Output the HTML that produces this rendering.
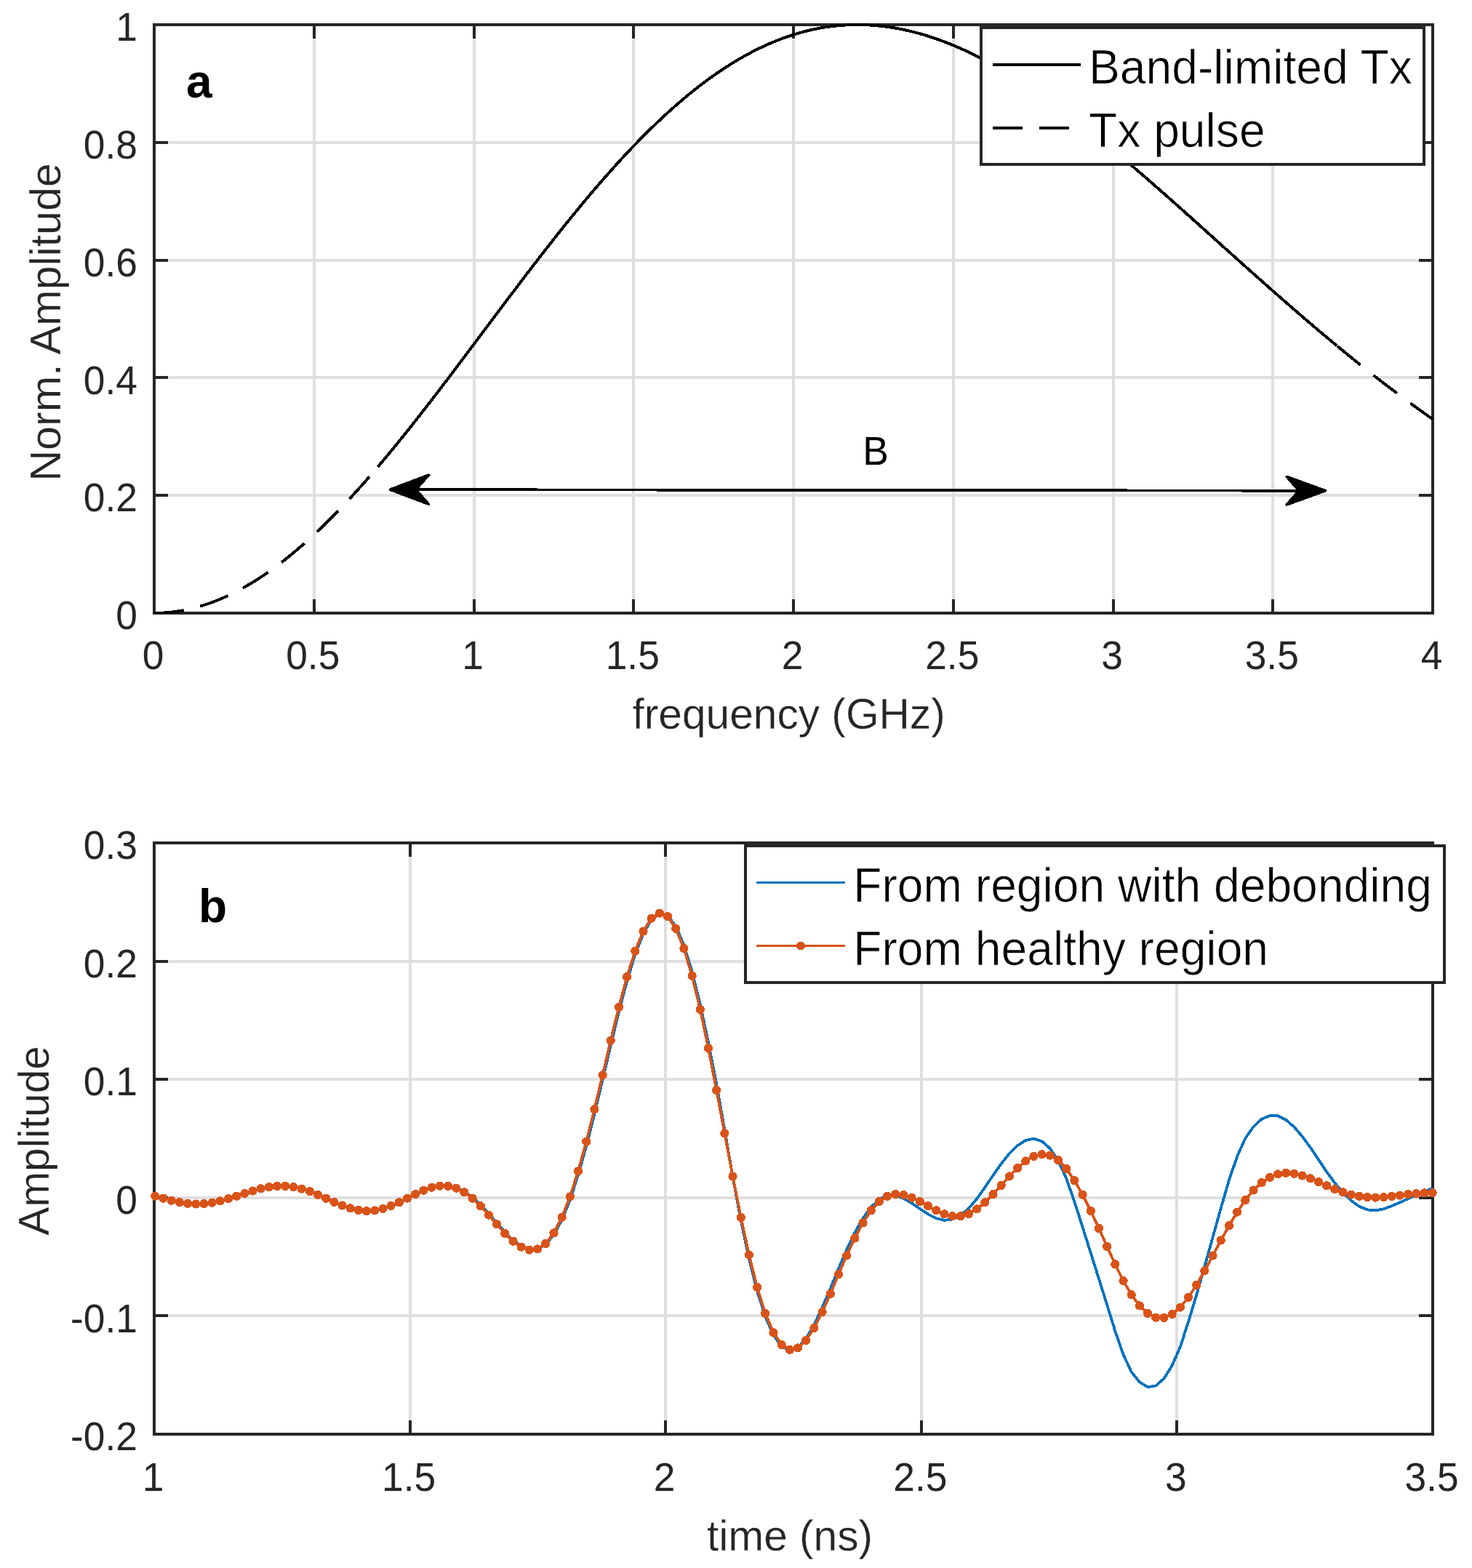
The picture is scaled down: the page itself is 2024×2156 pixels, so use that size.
<!DOCTYPE html>
<html lang="en"><head><meta charset="utf-8"><title>Figure</title>
<style>html,body{margin:0;padding:0;background:#fff}svg{display:block}</style></head>
<body>
<svg width="2024" height="2156" viewBox="0 0 2024 2156" shape-rendering="crispEdges" font-family="'Liberation Sans', Arial, Helvetica, sans-serif">
<rect width="2024" height="2156" fill="#fff"/>
<defs><clipPath id="ca"><rect x="211" y="32" width="1760" height="812"/></clipPath><clipPath id="cb"><rect x="211" y="1158" width="1760" height="815"/></clipPath></defs>
<line x1="431.75" y1="34.0" x2="431.75" y2="843.0" stroke="#dfdfdf" stroke-width="4.0"/>
<line x1="651.50" y1="34.0" x2="651.50" y2="843.0" stroke="#dfdfdf" stroke-width="4.0"/>
<line x1="871.25" y1="34.0" x2="871.25" y2="843.0" stroke="#dfdfdf" stroke-width="4.0"/>
<line x1="1091.00" y1="34.0" x2="1091.00" y2="843.0" stroke="#dfdfdf" stroke-width="4.0"/>
<line x1="1310.75" y1="34.0" x2="1310.75" y2="843.0" stroke="#dfdfdf" stroke-width="4.0"/>
<line x1="1530.50" y1="34.0" x2="1530.50" y2="843.0" stroke="#dfdfdf" stroke-width="4.0"/>
<line x1="1750.25" y1="34.0" x2="1750.25" y2="843.0" stroke="#dfdfdf" stroke-width="4.0"/>
<line x1="212.0" y1="681.20" x2="1970.0" y2="681.20" stroke="#dfdfdf" stroke-width="4.0"/>
<line x1="212.0" y1="519.40" x2="1970.0" y2="519.40" stroke="#dfdfdf" stroke-width="4.0"/>
<line x1="212.0" y1="357.60" x2="1970.0" y2="357.60" stroke="#dfdfdf" stroke-width="4.0"/>
<line x1="212.0" y1="195.80" x2="1970.0" y2="195.80" stroke="#dfdfdf" stroke-width="4.0"/>
<line x1="431.75" y1="843.0" x2="431.75" y2="824.0" stroke="#262626" stroke-width="4.0"/>
<line x1="431.75" y1="34.0" x2="431.75" y2="53.0" stroke="#262626" stroke-width="4.0"/>
<line x1="651.50" y1="843.0" x2="651.50" y2="824.0" stroke="#262626" stroke-width="4.0"/>
<line x1="651.50" y1="34.0" x2="651.50" y2="53.0" stroke="#262626" stroke-width="4.0"/>
<line x1="871.25" y1="843.0" x2="871.25" y2="824.0" stroke="#262626" stroke-width="4.0"/>
<line x1="871.25" y1="34.0" x2="871.25" y2="53.0" stroke="#262626" stroke-width="4.0"/>
<line x1="1091.00" y1="843.0" x2="1091.00" y2="824.0" stroke="#262626" stroke-width="4.0"/>
<line x1="1091.00" y1="34.0" x2="1091.00" y2="53.0" stroke="#262626" stroke-width="4.0"/>
<line x1="1310.75" y1="843.0" x2="1310.75" y2="824.0" stroke="#262626" stroke-width="4.0"/>
<line x1="1310.75" y1="34.0" x2="1310.75" y2="53.0" stroke="#262626" stroke-width="4.0"/>
<line x1="1530.50" y1="843.0" x2="1530.50" y2="824.0" stroke="#262626" stroke-width="4.0"/>
<line x1="1530.50" y1="34.0" x2="1530.50" y2="53.0" stroke="#262626" stroke-width="4.0"/>
<line x1="1750.25" y1="843.0" x2="1750.25" y2="824.0" stroke="#262626" stroke-width="4.0"/>
<line x1="1750.25" y1="34.0" x2="1750.25" y2="53.0" stroke="#262626" stroke-width="4.0"/>
<line x1="212.0" y1="681.20" x2="231.0" y2="681.20" stroke="#262626" stroke-width="4.0"/>
<line x1="1970.0" y1="681.20" x2="1951.0" y2="681.20" stroke="#262626" stroke-width="4.0"/>
<line x1="212.0" y1="519.40" x2="231.0" y2="519.40" stroke="#262626" stroke-width="4.0"/>
<line x1="1970.0" y1="519.40" x2="1951.0" y2="519.40" stroke="#262626" stroke-width="4.0"/>
<line x1="212.0" y1="357.60" x2="231.0" y2="357.60" stroke="#262626" stroke-width="4.0"/>
<line x1="1970.0" y1="357.60" x2="1951.0" y2="357.60" stroke="#262626" stroke-width="4.0"/>
<line x1="212.0" y1="195.80" x2="231.0" y2="195.80" stroke="#262626" stroke-width="4.0"/>
<line x1="1970.0" y1="195.80" x2="1951.0" y2="195.80" stroke="#262626" stroke-width="4.0"/>
<rect x="212.0" y="34.0" width="1758.0" height="809.0" fill="none" stroke="#262626" stroke-width="4.0"/>
<g clip-path="url(#ca)">
<path d="M212.00,843.00 L214.20,842.99 L216.40,842.95 L218.59,842.90 L220.79,842.82 L222.99,842.72 L225.19,842.59 L227.38,842.44 L229.58,842.27 L231.78,842.08 L233.97,841.86 L236.17,841.63 L238.37,841.37 L240.57,841.08 L242.77,840.78 L244.96,840.45 L247.16,840.10 L249.36,839.72 L251.56,839.33 L253.75,838.91 L255.95,838.47 L258.15,838.00 L260.35,837.52 L262.54,837.01 L264.74,836.48 L266.94,835.92 L269.13,835.35 L271.33,834.75 L273.53,834.13 L275.73,833.49 L277.93,832.82 L280.12,832.14 L282.32,831.43 L284.52,830.70 L286.72,829.95 L288.91,829.17 L291.11,828.38 L293.31,827.56 L295.50,826.72 L297.70,825.86 L299.90,824.98 L302.10,824.07 L304.30,823.14 L306.49,822.20 L308.69,821.23 L310.89,820.24 L313.09,819.23 L315.28,818.19 L317.48,817.14 L319.68,816.06 L321.88,814.97 L324.07,813.85 L326.27,812.71 L328.47,811.55 L330.67,810.37 L332.86,809.17 L335.06,807.95 L337.26,806.71 L339.45,805.45 L341.65,804.16 L343.85,802.86 L346.05,801.54 L348.25,800.19 L350.44,798.83 L352.64,797.45 L354.84,796.04 L357.03,794.62 L359.23,793.18 L361.43,791.72 L363.63,790.23 L365.83,788.73 L368.02,787.21 L370.22,785.67 L372.42,784.11 L374.62,782.53 L376.81,780.94 L379.01,779.32 L381.21,777.68 L383.40,776.03 L385.60,774.36 L387.80,772.67 L390.00,770.96 L392.20,769.23 L394.39,767.48 L396.59,765.72 L398.79,763.94 L400.99,762.14 L403.18,760.32 L405.38,758.49 L407.58,756.63 L409.77,754.76 L411.97,752.88 L414.17,750.97 L416.37,749.05 L418.57,747.11 L420.76,745.15 L422.96,743.18 L425.16,741.19 L427.36,739.19 L429.55,737.17 L431.75,735.13 L433.95,733.07 L436.14,731.00 L438.34,728.92 L440.54,726.82 L442.74,724.70 L444.94,722.57 L447.13,720.42 L449.33,718.26 L451.53,716.08 L453.73,713.88 L455.92,711.68 L458.12,709.45 L460.32,707.22 L462.51,704.96 L464.71,702.70 L466.91,700.42 L469.11,698.12 L471.31,695.81 L473.50,693.49 L475.70,691.16 L477.90,688.81 L480.09,686.44 L482.29,684.07 L484.49,681.68 L486.69,679.28 L488.88,676.86 L491.08,674.44 L493.28,672.00 L495.48,669.54 L497.68,667.08 L499.87,664.60 L502.07,662.12 L504.27,659.62 L506.47,657.11 L508.66,654.58 L510.86,652.05 L513.06,649.50 L515.26,646.95 L517.45,644.38 L519.65,641.80 L521.85,639.21 L524.04,636.61 L526.24,634.00 L528.44,631.38 L530.64,628.76 L532.84,626.12 L535.03,623.47 L537.23,620.81 L539.43,618.14 L541.62,615.47 L543.82,612.78 L546.02,610.09 L548.22,607.38 L550.41,604.67 L552.61,601.95 L554.81,599.22 L557.01,596.49 L559.21,593.74 L561.40,590.99 L563.60,588.23 L565.80,585.46 L568.00,582.69 L570.19,579.91 L572.39,577.12 L574.59,574.32 L576.79,571.52 L578.98,568.71 L581.18,565.90 L583.38,563.08 L585.58,560.25 L587.77,557.42 L589.97,554.58 L592.17,551.73 L594.37,548.88 L596.56,546.03 L598.76,543.17 L600.96,540.31 L603.15,537.44 L605.35,534.56 L607.55,531.68 L609.75,528.80 L611.94,525.92 L614.14,523.03 L616.34,520.13 L618.54,517.23 L620.74,514.33 L622.93,511.43 L625.13,508.52 L627.33,505.61 L629.53,502.70 L631.72,499.78 L633.92,496.87 L636.12,493.95 L638.32,491.02 L640.51,488.10 L642.71,485.17 L644.91,482.25 L647.11,479.32 L649.30,476.39 L651.50,473.45 L653.70,470.52 L655.89,467.59 L658.09,464.66 L660.29,461.72 L662.49,458.79 L664.68,455.85 L666.88,452.92 L669.08,449.98 L671.28,447.05 L673.48,444.11 L675.67,441.18 L677.87,438.25 L680.07,435.32 L682.27,432.39 L684.46,429.46 L686.66,426.53 L688.86,423.60 L691.06,420.68 L693.25,417.76 L695.45,414.84 L697.65,411.92 L699.85,409.00 L702.04,406.09 L704.24,403.18 L706.44,400.27 L708.63,397.37 L710.83,394.46 L713.03,391.57 L715.23,388.67 L717.43,385.78 L719.62,382.89 L721.82,380.01 L724.02,377.13 L726.21,374.25 L728.41,371.38 L730.61,368.52 L732.81,365.65 L735.00,362.80 L737.20,359.95 L739.40,357.10 L741.60,354.26 L743.79,351.42 L745.99,348.59 L748.19,345.76 L750.39,342.94 L752.59,340.13 L754.78,337.32 L756.98,334.52 L759.18,331.73 L761.38,328.94 L763.57,326.16 L765.77,323.38 L767.97,320.62 L770.16,317.86 L772.36,315.10 L774.56,312.36 L776.76,309.62 L778.96,306.89 L781.15,304.16 L783.35,301.45 L785.55,298.74 L787.75,296.04 L789.94,293.35 L792.14,290.67 L794.34,288.00 L796.54,285.33 L798.73,282.67 L800.93,280.03 L803.13,277.39 L805.33,274.76 L807.52,272.14 L809.72,269.53 L811.92,266.93 L814.12,264.34 L816.31,261.76 L818.51,259.19 L820.71,256.63 L822.91,254.08 L825.10,251.54 L827.30,249.01 L829.50,246.49 L831.69,243.98 L833.89,241.48 L836.09,238.99 L838.29,236.52 L840.49,234.05 L842.68,231.60 L844.88,229.16 L847.08,226.73 L849.27,224.31 L851.47,221.90 L853.67,219.50 L855.87,217.12 L858.06,214.75 L860.26,212.39 L862.46,210.04 L864.66,207.71 L866.86,205.38 L869.05,203.07 L871.25,200.78 L873.45,198.49 L875.64,196.22 L877.84,193.96 L880.04,191.71 L882.24,189.48 L884.44,187.26 L886.63,185.05 L888.83,182.86 L891.03,180.68 L893.23,178.52 L895.42,176.36 L897.62,174.23 L899.82,172.10 L902.01,169.99 L904.21,167.89 L906.41,165.81 L908.61,163.74 L910.81,161.69 L913.00,159.65 L915.20,157.63 L917.40,155.61 L919.60,153.62 L921.79,151.64 L923.99,149.67 L926.19,147.72 L928.39,145.78 L930.58,143.86 L932.78,141.95 L934.98,140.06 L937.18,138.19 L939.37,136.32 L941.57,134.48 L943.77,132.65 L945.96,130.83 L948.16,129.03 L950.36,127.25 L952.56,125.48 L954.75,123.73 L956.95,121.99 L959.15,120.27 L961.35,118.57 L963.54,116.88 L965.74,115.21 L967.94,113.55 L970.14,111.91 L972.34,110.28 L974.53,108.68 L976.73,107.08 L978.93,105.51 L981.12,103.95 L983.32,102.41 L985.52,100.88 L987.72,99.37 L989.91,97.88 L992.11,96.40 L994.31,94.94 L996.51,93.50 L998.71,92.07 L1000.90,90.66 L1003.10,89.27 L1005.30,87.89 L1007.50,86.53 L1009.69,85.19 L1011.89,83.87 L1014.09,82.56 L1016.29,81.27 L1018.48,79.99 L1020.68,78.74 L1022.88,77.50 L1025.08,76.28 L1027.27,75.07 L1029.47,73.88 L1031.67,72.71 L1033.87,71.56 L1036.06,70.42 L1038.26,69.30 L1040.46,68.20 L1042.66,67.12 L1044.85,66.05 L1047.05,65.00 L1049.25,63.97 L1051.45,62.96 L1053.64,61.96 L1055.84,60.98 L1058.04,60.02 L1060.24,59.07 L1062.43,58.15 L1064.63,57.24 L1066.83,56.34 L1069.03,55.47 L1071.22,54.61 L1073.42,53.77 L1075.62,52.95 L1077.82,52.15 L1080.01,51.36 L1082.21,50.59 L1084.41,49.84 L1086.61,49.11 L1088.80,48.39 L1091.00,47.69 L1093.20,47.01 L1095.39,46.34 L1097.59,45.70 L1099.79,45.07 L1101.99,44.46 L1104.18,43.86 L1106.38,43.29 L1108.58,42.73 L1110.78,42.19 L1112.97,41.67 L1115.17,41.16 L1117.37,40.67 L1119.57,40.20 L1121.76,39.75 L1123.96,39.31 L1126.16,38.89 L1128.36,38.49 L1130.55,38.10 L1132.75,37.74 L1134.95,37.39 L1137.15,37.06 L1139.34,36.74 L1141.54,36.44 L1143.74,36.16 L1145.94,35.90 L1148.13,35.65 L1150.33,35.43 L1152.53,35.21 L1154.73,35.02 L1156.92,34.84 L1159.12,34.68 L1161.32,34.54 L1163.52,34.41 L1165.71,34.30 L1167.91,34.21 L1170.11,34.13 L1172.31,34.08 L1174.51,34.03 L1176.70,34.01 L1178.90,34.00 L1181.10,34.01 L1183.30,34.03 L1185.49,34.08 L1187.69,34.13 L1189.89,34.21 L1192.09,34.30 L1194.28,34.41 L1196.48,34.53 L1198.68,34.67 L1200.88,34.83 L1203.07,35.00 L1205.27,35.19 L1207.47,35.40 L1209.66,35.62 L1211.86,35.86 L1214.06,36.11 L1216.26,36.38 L1218.45,36.67 L1220.65,36.97 L1222.85,37.29 L1225.05,37.62 L1227.24,37.97 L1229.44,38.34 L1231.64,38.72 L1233.84,39.11 L1236.04,39.52 L1238.23,39.95 L1240.43,40.39 L1242.63,40.85 L1244.83,41.33 L1247.02,41.81 L1249.22,42.32 L1251.42,42.84 L1253.62,43.37 L1255.81,43.92 L1258.01,44.48 L1260.21,45.06 L1262.40,45.66 L1264.60,46.27 L1266.80,46.89 L1269.00,47.53 L1271.20,48.18 L1273.39,48.85 L1275.59,49.53 L1277.79,50.22 L1279.99,50.93 L1282.18,51.66 L1284.38,52.40 L1286.58,53.15 L1288.78,53.91 L1290.97,54.70 L1293.17,55.49 L1295.37,56.30 L1297.57,57.12 L1299.76,57.96 L1301.96,58.81 L1304.16,59.67 L1306.36,60.54 L1308.55,61.43 L1310.75,62.34 L1312.95,63.25 L1315.15,64.18 L1317.34,65.13 L1319.54,66.08 L1321.74,67.05 L1323.94,68.03 L1326.13,69.03 L1328.33,70.03 L1330.53,71.05 L1332.73,72.08 L1334.92,73.13 L1337.12,74.19 L1339.32,75.26 L1341.51,76.34 L1343.71,77.43 L1345.91,78.54 L1348.11,79.65 L1350.30,80.78 L1352.50,81.93 L1354.70,83.08 L1356.90,84.25 L1359.10,85.42 L1361.29,86.61 L1363.49,87.81 L1365.69,89.02 L1367.88,90.24 L1370.08,91.48 L1372.28,92.72 L1374.48,93.98 L1376.67,95.25 L1378.87,96.52 L1381.07,97.81 L1383.27,99.11 L1385.46,100.42 L1387.66,101.74 L1389.86,103.07 L1392.06,104.41 L1394.25,105.77 L1396.45,107.13 L1398.65,108.50 L1400.85,109.88 L1403.05,111.27 L1405.24,112.68 L1407.44,114.09 L1409.64,115.51 L1411.84,116.94 L1414.03,118.38 L1416.23,119.83 L1418.43,121.29 L1420.62,122.76 L1422.82,124.24 L1425.02,125.72 L1427.22,127.22 L1429.41,128.72 L1431.61,130.24 L1433.81,131.76 L1436.01,133.29 L1438.20,134.83 L1440.40,136.38 L1442.60,137.94 L1444.80,139.50 L1447.00,141.07 L1449.19,142.66 L1451.39,144.25 L1453.59,145.84 L1455.79,147.45 L1457.98,149.06 L1460.18,150.68 L1462.38,152.31 L1464.58,153.95 L1466.77,155.59 L1468.97,157.24 L1471.17,158.90 L1473.37,160.56 L1475.56,162.24 L1477.76,163.92 L1479.96,165.60 L1482.15,167.29 L1484.35,168.99 L1486.55,170.70 L1488.75,172.41 L1490.95,174.13 L1493.14,175.86 L1495.34,177.59 L1497.54,179.33 L1499.74,181.08 L1501.93,182.83 L1504.13,184.58 L1506.33,186.35 L1508.53,188.12 L1510.72,189.89 L1512.92,191.67 L1515.12,193.46 L1517.32,195.25 L1519.51,197.04 L1521.71,198.85 L1523.91,200.65 L1526.11,202.47 L1528.30,204.28 L1530.50,206.11 L1532.70,207.93 L1534.90,209.76 L1537.09,211.60 L1539.29,213.44 L1541.49,215.29 L1543.69,217.14 L1545.88,218.99 L1548.08,220.85 L1550.28,222.72 L1552.48,224.58 L1554.67,226.45 L1556.87,228.33 L1559.07,230.21 L1561.27,232.09 L1563.46,233.98 L1565.66,235.87 L1567.86,237.76 L1570.05,239.66 L1572.25,241.56 L1574.45,243.47 L1576.65,245.37 L1578.85,247.29 L1581.04,249.20 L1583.24,251.12 L1585.44,253.04 L1587.63,254.96 L1589.83,256.88 L1592.03,258.81 L1594.23,260.74 L1596.42,262.68 L1598.62,264.61 L1600.82,266.55 L1603.02,268.49 L1605.21,270.43 L1607.41,272.38 L1609.61,274.33 L1611.81,276.27 L1614.00,278.23 L1616.20,280.18 L1618.40,282.13 L1620.60,284.09 L1622.80,286.05 L1624.99,288.01 L1627.19,289.97 L1629.39,291.93 L1631.59,293.89 L1633.78,295.86 L1635.98,297.83 L1638.18,299.79 L1640.38,301.76 L1642.57,303.73 L1644.77,305.70 L1646.97,307.67 L1649.16,309.64 L1651.36,311.62 L1653.56,313.59 L1655.76,315.57 L1657.95,317.54 L1660.15,319.51 L1662.35,321.49 L1664.55,323.47 L1666.75,325.44 L1668.94,327.42 L1671.14,329.39 L1673.34,331.37 L1675.54,333.35 L1677.73,335.32 L1679.93,337.30 L1682.13,339.27 L1684.33,341.25 L1686.52,343.22 L1688.72,345.20 L1690.92,347.17 L1693.12,349.14 L1695.31,351.12 L1697.51,353.09 L1699.71,355.06 L1701.90,357.03 L1704.10,359.00 L1706.30,360.97 L1708.50,362.94 L1710.70,364.91 L1712.89,366.87 L1715.09,368.84 L1717.29,370.80 L1719.49,372.76 L1721.68,374.72 L1723.88,376.68 L1726.08,378.64 L1728.28,380.60 L1730.47,382.55 L1732.67,384.50 L1734.87,386.46 L1737.07,388.41 L1739.26,390.35 L1741.46,392.30 L1743.66,394.25 L1745.86,396.19 L1748.05,398.13 L1750.25,400.07 L1752.45,402.00 L1754.65,403.94 L1756.84,405.87 L1759.04,407.80 L1761.24,409.73 L1763.44,411.65 L1765.63,413.58 L1767.83,415.50 L1770.03,417.41 L1772.23,419.33 L1774.42,421.24 L1776.62,423.15 L1778.82,425.06 L1781.02,426.96 L1783.21,428.87 L1785.41,430.77 L1787.61,432.66 L1789.80,434.55 L1792.00,436.45 L1794.20,438.33 L1796.40,440.22 L1798.60,442.10 L1800.79,443.98 L1802.99,445.85 L1805.19,447.72 L1807.38,449.59 L1809.58,451.46 L1811.78,453.32 L1813.98,455.18 L1816.17,457.03 L1818.37,458.88 L1820.57,460.73 L1822.77,462.58 L1824.96,464.42 L1827.16,466.25 L1829.36,468.09 L1831.56,469.92 L1833.75,471.74 L1835.95,473.57 L1838.15,475.38 L1840.35,477.20 L1842.55,479.01 L1844.74,480.82 L1846.94,482.62 L1849.14,484.42 L1851.34,486.21 L1853.53,488.01 L1855.73,489.79 L1857.93,491.58 L1860.12,493.35 L1862.32,495.13 L1864.52,496.90 L1866.72,498.67 L1868.91,500.43 L1871.11,502.18 L1873.31,503.94 L1875.51,505.69 L1877.70,507.43 L1879.90,509.17 L1882.10,510.91 L1884.30,512.64 L1886.50,514.36 L1888.69,516.09 L1890.89,517.80 L1893.09,519.52 L1895.29,521.23 L1897.48,522.93 L1899.68,524.63 L1901.88,526.32 L1904.08,528.01 L1906.27,529.70 L1908.47,531.38 L1910.67,533.05 L1912.87,534.72 L1915.06,536.39 L1917.26,538.05 L1919.46,539.71 L1921.65,541.36 L1923.85,543.01 L1926.05,544.65 L1928.25,546.28 L1930.45,547.92 L1932.64,549.54 L1934.84,551.16 L1937.04,552.78 L1939.24,554.39 L1941.43,556.00 L1943.63,557.60 L1945.83,559.20 L1948.03,560.79 L1950.22,562.37 L1952.42,563.96 L1954.62,565.53 L1956.82,567.10 L1959.01,568.67 L1961.21,570.23 L1963.41,571.78 L1965.61,573.33 L1967.80,574.88 L1970.00,576.42" fill="none" stroke="#000" stroke-width="4.0" stroke-linejoin="round" shape-rendering="crispEdges" stroke-dasharray="41 23"/>
<path d="M519.65,641.80 L521.85,639.21 L524.04,636.61 L526.24,634.00 L528.44,631.38 L530.64,628.76 L532.84,626.12 L535.03,623.47 L537.23,620.81 L539.43,618.14 L541.62,615.47 L543.82,612.78 L546.02,610.09 L548.22,607.38 L550.41,604.67 L552.61,601.95 L554.81,599.22 L557.01,596.49 L559.21,593.74 L561.40,590.99 L563.60,588.23 L565.80,585.46 L568.00,582.69 L570.19,579.91 L572.39,577.12 L574.59,574.32 L576.79,571.52 L578.98,568.71 L581.18,565.90 L583.38,563.08 L585.58,560.25 L587.77,557.42 L589.97,554.58 L592.17,551.73 L594.37,548.88 L596.56,546.03 L598.76,543.17 L600.96,540.31 L603.15,537.44 L605.35,534.56 L607.55,531.68 L609.75,528.80 L611.94,525.92 L614.14,523.03 L616.34,520.13 L618.54,517.23 L620.74,514.33 L622.93,511.43 L625.13,508.52 L627.33,505.61 L629.53,502.70 L631.72,499.78 L633.92,496.87 L636.12,493.95 L638.32,491.02 L640.51,488.10 L642.71,485.17 L644.91,482.25 L647.11,479.32 L649.30,476.39 L651.50,473.45 L653.70,470.52 L655.89,467.59 L658.09,464.66 L660.29,461.72 L662.49,458.79 L664.68,455.85 L666.88,452.92 L669.08,449.98 L671.28,447.05 L673.48,444.11 L675.67,441.18 L677.87,438.25 L680.07,435.32 L682.27,432.39 L684.46,429.46 L686.66,426.53 L688.86,423.60 L691.06,420.68 L693.25,417.76 L695.45,414.84 L697.65,411.92 L699.85,409.00 L702.04,406.09 L704.24,403.18 L706.44,400.27 L708.63,397.37 L710.83,394.46 L713.03,391.57 L715.23,388.67 L717.43,385.78 L719.62,382.89 L721.82,380.01 L724.02,377.13 L726.21,374.25 L728.41,371.38 L730.61,368.52 L732.81,365.65 L735.00,362.80 L737.20,359.95 L739.40,357.10 L741.60,354.26 L743.79,351.42 L745.99,348.59 L748.19,345.76 L750.39,342.94 L752.59,340.13 L754.78,337.32 L756.98,334.52 L759.18,331.73 L761.38,328.94 L763.57,326.16 L765.77,323.38 L767.97,320.62 L770.16,317.86 L772.36,315.10 L774.56,312.36 L776.76,309.62 L778.96,306.89 L781.15,304.16 L783.35,301.45 L785.55,298.74 L787.75,296.04 L789.94,293.35 L792.14,290.67 L794.34,288.00 L796.54,285.33 L798.73,282.67 L800.93,280.03 L803.13,277.39 L805.33,274.76 L807.52,272.14 L809.72,269.53 L811.92,266.93 L814.12,264.34 L816.31,261.76 L818.51,259.19 L820.71,256.63 L822.91,254.08 L825.10,251.54 L827.30,249.01 L829.50,246.49 L831.69,243.98 L833.89,241.48 L836.09,238.99 L838.29,236.52 L840.49,234.05 L842.68,231.60 L844.88,229.16 L847.08,226.73 L849.27,224.31 L851.47,221.90 L853.67,219.50 L855.87,217.12 L858.06,214.75 L860.26,212.39 L862.46,210.04 L864.66,207.71 L866.86,205.38 L869.05,203.07 L871.25,200.78 L873.45,198.49 L875.64,196.22 L877.84,193.96 L880.04,191.71 L882.24,189.48 L884.44,187.26 L886.63,185.05 L888.83,182.86 L891.03,180.68 L893.23,178.52 L895.42,176.36 L897.62,174.23 L899.82,172.10 L902.01,169.99 L904.21,167.89 L906.41,165.81 L908.61,163.74 L910.81,161.69 L913.00,159.65 L915.20,157.63 L917.40,155.61 L919.60,153.62 L921.79,151.64 L923.99,149.67 L926.19,147.72 L928.39,145.78 L930.58,143.86 L932.78,141.95 L934.98,140.06 L937.18,138.19 L939.37,136.32 L941.57,134.48 L943.77,132.65 L945.96,130.83 L948.16,129.03 L950.36,127.25 L952.56,125.48 L954.75,123.73 L956.95,121.99 L959.15,120.27 L961.35,118.57 L963.54,116.88 L965.74,115.21 L967.94,113.55 L970.14,111.91 L972.34,110.28 L974.53,108.68 L976.73,107.08 L978.93,105.51 L981.12,103.95 L983.32,102.41 L985.52,100.88 L987.72,99.37 L989.91,97.88 L992.11,96.40 L994.31,94.94 L996.51,93.50 L998.71,92.07 L1000.90,90.66 L1003.10,89.27 L1005.30,87.89 L1007.50,86.53 L1009.69,85.19 L1011.89,83.87 L1014.09,82.56 L1016.29,81.27 L1018.48,79.99 L1020.68,78.74 L1022.88,77.50 L1025.08,76.28 L1027.27,75.07 L1029.47,73.88 L1031.67,72.71 L1033.87,71.56 L1036.06,70.42 L1038.26,69.30 L1040.46,68.20 L1042.66,67.12 L1044.85,66.05 L1047.05,65.00 L1049.25,63.97 L1051.45,62.96 L1053.64,61.96 L1055.84,60.98 L1058.04,60.02 L1060.24,59.07 L1062.43,58.15 L1064.63,57.24 L1066.83,56.34 L1069.03,55.47 L1071.22,54.61 L1073.42,53.77 L1075.62,52.95 L1077.82,52.15 L1080.01,51.36 L1082.21,50.59 L1084.41,49.84 L1086.61,49.11 L1088.80,48.39 L1091.00,47.69 L1093.20,47.01 L1095.39,46.34 L1097.59,45.70 L1099.79,45.07 L1101.99,44.46 L1104.18,43.86 L1106.38,43.29 L1108.58,42.73 L1110.78,42.19 L1112.97,41.67 L1115.17,41.16 L1117.37,40.67 L1119.57,40.20 L1121.76,39.75 L1123.96,39.31 L1126.16,38.89 L1128.36,38.49 L1130.55,38.10 L1132.75,37.74 L1134.95,37.39 L1137.15,37.06 L1139.34,36.74 L1141.54,36.44 L1143.74,36.16 L1145.94,35.90 L1148.13,35.65 L1150.33,35.43 L1152.53,35.21 L1154.73,35.02 L1156.92,34.84 L1159.12,34.68 L1161.32,34.54 L1163.52,34.41 L1165.71,34.30 L1167.91,34.21 L1170.11,34.13 L1172.31,34.08 L1174.51,34.03 L1176.70,34.01 L1178.90,34.00 L1181.10,34.01 L1183.30,34.03 L1185.49,34.08 L1187.69,34.13 L1189.89,34.21 L1192.09,34.30 L1194.28,34.41 L1196.48,34.53 L1198.68,34.67 L1200.88,34.83 L1203.07,35.00 L1205.27,35.19 L1207.47,35.40 L1209.66,35.62 L1211.86,35.86 L1214.06,36.11 L1216.26,36.38 L1218.45,36.67 L1220.65,36.97 L1222.85,37.29 L1225.05,37.62 L1227.24,37.97 L1229.44,38.34 L1231.64,38.72 L1233.84,39.11 L1236.04,39.52 L1238.23,39.95 L1240.43,40.39 L1242.63,40.85 L1244.83,41.33 L1247.02,41.81 L1249.22,42.32 L1251.42,42.84 L1253.62,43.37 L1255.81,43.92 L1258.01,44.48 L1260.21,45.06 L1262.40,45.66 L1264.60,46.27 L1266.80,46.89 L1269.00,47.53 L1271.20,48.18 L1273.39,48.85 L1275.59,49.53 L1277.79,50.22 L1279.99,50.93 L1282.18,51.66 L1284.38,52.40 L1286.58,53.15 L1288.78,53.91 L1290.97,54.70 L1293.17,55.49 L1295.37,56.30 L1297.57,57.12 L1299.76,57.96 L1301.96,58.81 L1304.16,59.67 L1306.36,60.54 L1308.55,61.43 L1310.75,62.34 L1312.95,63.25 L1315.15,64.18 L1317.34,65.13 L1319.54,66.08 L1321.74,67.05 L1323.94,68.03 L1326.13,69.03 L1328.33,70.03 L1330.53,71.05 L1332.73,72.08 L1334.92,73.13 L1337.12,74.19 L1339.32,75.26 L1341.51,76.34 L1343.71,77.43 L1345.91,78.54 L1348.11,79.65 L1350.30,80.78 L1352.50,81.93 L1354.70,83.08 L1356.90,84.25 L1359.10,85.42 L1361.29,86.61 L1363.49,87.81 L1365.69,89.02 L1367.88,90.24 L1370.08,91.48 L1372.28,92.72 L1374.48,93.98 L1376.67,95.25 L1378.87,96.52 L1381.07,97.81 L1383.27,99.11 L1385.46,100.42 L1387.66,101.74 L1389.86,103.07 L1392.06,104.41 L1394.25,105.77 L1396.45,107.13 L1398.65,108.50 L1400.85,109.88 L1403.05,111.27 L1405.24,112.68 L1407.44,114.09 L1409.64,115.51 L1411.84,116.94 L1414.03,118.38 L1416.23,119.83 L1418.43,121.29 L1420.62,122.76 L1422.82,124.24 L1425.02,125.72 L1427.22,127.22 L1429.41,128.72 L1431.61,130.24 L1433.81,131.76 L1436.01,133.29 L1438.20,134.83 L1440.40,136.38 L1442.60,137.94 L1444.80,139.50 L1447.00,141.07 L1449.19,142.66 L1451.39,144.25 L1453.59,145.84 L1455.79,147.45 L1457.98,149.06 L1460.18,150.68 L1462.38,152.31 L1464.58,153.95 L1466.77,155.59 L1468.97,157.24 L1471.17,158.90 L1473.37,160.56 L1475.56,162.24 L1477.76,163.92 L1479.96,165.60 L1482.15,167.29 L1484.35,168.99 L1486.55,170.70 L1488.75,172.41 L1490.95,174.13 L1493.14,175.86 L1495.34,177.59 L1497.54,179.33 L1499.74,181.08 L1501.93,182.83 L1504.13,184.58 L1506.33,186.35 L1508.53,188.12 L1510.72,189.89 L1512.92,191.67 L1515.12,193.46 L1517.32,195.25 L1519.51,197.04 L1521.71,198.85 L1523.91,200.65 L1526.11,202.47 L1528.30,204.28 L1530.50,206.11 L1532.70,207.93 L1534.90,209.76 L1537.09,211.60 L1539.29,213.44 L1541.49,215.29 L1543.69,217.14 L1545.88,218.99 L1548.08,220.85 L1550.28,222.72 L1552.48,224.58 L1554.67,226.45 L1556.87,228.33 L1559.07,230.21 L1561.27,232.09 L1563.46,233.98 L1565.66,235.87 L1567.86,237.76 L1570.05,239.66 L1572.25,241.56 L1574.45,243.47 L1576.65,245.37 L1578.85,247.29 L1581.04,249.20 L1583.24,251.12 L1585.44,253.04 L1587.63,254.96 L1589.83,256.88 L1592.03,258.81 L1594.23,260.74 L1596.42,262.68 L1598.62,264.61 L1600.82,266.55 L1603.02,268.49 L1605.21,270.43 L1607.41,272.38 L1609.61,274.33 L1611.81,276.27 L1614.00,278.23 L1616.20,280.18 L1618.40,282.13 L1620.60,284.09 L1622.80,286.05 L1624.99,288.01 L1627.19,289.97 L1629.39,291.93 L1631.59,293.89 L1633.78,295.86 L1635.98,297.83 L1638.18,299.79 L1640.38,301.76 L1642.57,303.73 L1644.77,305.70 L1646.97,307.67 L1649.16,309.64 L1651.36,311.62 L1653.56,313.59 L1655.76,315.57 L1657.95,317.54 L1660.15,319.51 L1662.35,321.49 L1664.55,323.47 L1666.75,325.44 L1668.94,327.42 L1671.14,329.39 L1673.34,331.37 L1675.54,333.35 L1677.73,335.32 L1679.93,337.30 L1682.13,339.27 L1684.33,341.25 L1686.52,343.22 L1688.72,345.20 L1690.92,347.17 L1693.12,349.14 L1695.31,351.12 L1697.51,353.09 L1699.71,355.06 L1701.90,357.03 L1704.10,359.00 L1706.30,360.97 L1708.50,362.94 L1710.70,364.91 L1712.89,366.87 L1715.09,368.84 L1717.29,370.80 L1719.49,372.76 L1721.68,374.72 L1723.88,376.68 L1726.08,378.64 L1728.28,380.60 L1730.47,382.55 L1732.67,384.50 L1734.87,386.46 L1737.07,388.41 L1739.26,390.35 L1741.46,392.30 L1743.66,394.25 L1745.86,396.19 L1748.05,398.13 L1750.25,400.07 L1752.45,402.00 L1754.65,403.94 L1756.84,405.87 L1759.04,407.80 L1761.24,409.73 L1763.44,411.65 L1765.63,413.58 L1767.83,415.50 L1770.03,417.41 L1772.23,419.33 L1774.42,421.24 L1776.62,423.15 L1778.82,425.06 L1781.02,426.96 L1783.21,428.87 L1785.41,430.77 L1787.61,432.66 L1789.80,434.55 L1792.00,436.45 L1794.20,438.33 L1796.40,440.22 L1798.60,442.10 L1800.79,443.98 L1802.99,445.85 L1805.19,447.72 L1807.38,449.59 L1809.58,451.46 L1811.78,453.32 L1813.98,455.18 L1816.17,457.03 L1818.37,458.88 L1820.57,460.73 L1822.77,462.58 L1824.96,464.42 L1827.16,466.25 L1829.36,468.09 L1831.56,469.92 L1833.75,471.74 L1835.95,473.57 L1838.15,475.38" fill="none" stroke="#000" stroke-width="4.0" stroke-linejoin="round" shape-rendering="crispEdges" />
</g>
<text transform="translate(210.50,920.00) scale(1,1.035)" font-size="53.33" text-anchor="middle" fill="#262626">0</text>
<text transform="translate(430.25,920.00) scale(1,1.035)" font-size="53.33" text-anchor="middle" fill="#262626">0.5</text>
<text transform="translate(650.00,920.00) scale(1,1.035)" font-size="53.33" text-anchor="middle" fill="#262626">1</text>
<text transform="translate(869.75,920.00) scale(1,1.035)" font-size="53.33" text-anchor="middle" fill="#262626">1.5</text>
<text transform="translate(1089.50,920.00) scale(1,1.035)" font-size="53.33" text-anchor="middle" fill="#262626">2</text>
<text transform="translate(1309.25,920.00) scale(1,1.035)" font-size="53.33" text-anchor="middle" fill="#262626">2.5</text>
<text transform="translate(1529.00,920.00) scale(1,1.035)" font-size="53.33" text-anchor="middle" fill="#262626">3</text>
<text transform="translate(1748.75,920.00) scale(1,1.035)" font-size="53.33" text-anchor="middle" fill="#262626">3.5</text>
<text transform="translate(1968.50,920.00) scale(1,1.035)" font-size="53.33" text-anchor="middle" fill="#262626">4</text>
<text transform="translate(189.00,865.20) scale(1,1.035)" font-size="53.33" text-anchor="end" fill="#262626">0</text>
<text transform="translate(189.00,703.40) scale(1,1.035)" font-size="53.33" text-anchor="end" fill="#262626">0.2</text>
<text transform="translate(189.00,541.60) scale(1,1.035)" font-size="53.33" text-anchor="end" fill="#262626">0.4</text>
<text transform="translate(189.00,379.80) scale(1,1.035)" font-size="53.33" text-anchor="end" fill="#262626">0.6</text>
<text transform="translate(189.00,218.00) scale(1,1.035)" font-size="53.33" text-anchor="end" fill="#262626">0.8</text>
<text transform="translate(189.00,56.20) scale(1,1.035)" font-size="53.33" text-anchor="end" fill="#262626">1</text>
<text transform="translate(1084.60,1002.15)" font-size="58.67" text-anchor="middle" fill="#262626" stroke="#fff" stroke-width="0.3">frequency (GHz)</text>
<text transform="translate(83.00,442.95) rotate(-90)" font-size="59.2" text-anchor="middle" fill="#262626" stroke="#fff" stroke-width="0.3">Norm. Amplitude</text>
<text transform="translate(256.00,134.00) scale(1,1.02)" font-size="64" text-anchor="start" fill="#000" font-weight="bold">a</text>
<line x1="575.0" y1="673.2" x2="1784.5" y2="674.7" stroke="#000" stroke-width="3.8"/>
<path d="M535.4,673.2 L590.5,652.4000000000001 L572.3,673.2 L590.5,694.0 Z" fill="#000" stroke="#000" stroke-width="3" stroke-linejoin="bevel"/>
<path d="M1823.4,674.7 L1768.3,654.7 L1785.5,674.7 L1768.3,694.7 Z" fill="#000" stroke="#000" stroke-width="3" stroke-linejoin="bevel"/>
<text transform="translate(1204.00,639.00) scale(1,1.04)" font-size="53.33" text-anchor="middle" fill="#000">B</text>
<rect x="1349" y="38" width="609" height="188" fill="#fff" stroke="#262626" stroke-width="4.0"/>
<line x1="1365" y1="89" x2="1486" y2="89" stroke="#000" stroke-width="4"/>
<line x1="1365" y1="176" x2="1486" y2="176" stroke="#000" stroke-width="4" stroke-dasharray="41 23"/>
<text transform="translate(1497.00,115.35) scale(1,1.04)" font-size="64.2" text-anchor="start" fill="#000" stroke="#fff" stroke-width="0.7">Band-limited Tx</text>
<text transform="translate(1497.00,202.35) scale(1,1.04)" font-size="64.2" text-anchor="start" fill="#000" stroke="#fff" stroke-width="0.7">Tx pulse</text>
<line x1="563.60" y1="1159.0" x2="563.60" y2="1972.0" stroke="#dfdfdf" stroke-width="4.0"/>
<line x1="915.20" y1="1159.0" x2="915.20" y2="1972.0" stroke="#dfdfdf" stroke-width="4.0"/>
<line x1="1266.80" y1="1159.0" x2="1266.80" y2="1972.0" stroke="#dfdfdf" stroke-width="4.0"/>
<line x1="1618.40" y1="1159.0" x2="1618.40" y2="1972.0" stroke="#dfdfdf" stroke-width="4.0"/>
<line x1="212.0" y1="1809.40" x2="1970.0" y2="1809.40" stroke="#dfdfdf" stroke-width="4.0"/>
<line x1="212.0" y1="1646.80" x2="1970.0" y2="1646.80" stroke="#dfdfdf" stroke-width="4.0"/>
<line x1="212.0" y1="1484.20" x2="1970.0" y2="1484.20" stroke="#dfdfdf" stroke-width="4.0"/>
<line x1="212.0" y1="1321.60" x2="1970.0" y2="1321.60" stroke="#dfdfdf" stroke-width="4.0"/>
<line x1="563.60" y1="1972.0" x2="563.60" y2="1953.0" stroke="#262626" stroke-width="4.0"/>
<line x1="563.60" y1="1159.0" x2="563.60" y2="1178.0" stroke="#262626" stroke-width="4.0"/>
<line x1="915.20" y1="1972.0" x2="915.20" y2="1953.0" stroke="#262626" stroke-width="4.0"/>
<line x1="915.20" y1="1159.0" x2="915.20" y2="1178.0" stroke="#262626" stroke-width="4.0"/>
<line x1="1266.80" y1="1972.0" x2="1266.80" y2="1953.0" stroke="#262626" stroke-width="4.0"/>
<line x1="1266.80" y1="1159.0" x2="1266.80" y2="1178.0" stroke="#262626" stroke-width="4.0"/>
<line x1="1618.40" y1="1972.0" x2="1618.40" y2="1953.0" stroke="#262626" stroke-width="4.0"/>
<line x1="1618.40" y1="1159.0" x2="1618.40" y2="1178.0" stroke="#262626" stroke-width="4.0"/>
<line x1="212.0" y1="1809.40" x2="231.0" y2="1809.40" stroke="#262626" stroke-width="4.0"/>
<line x1="1970.0" y1="1809.40" x2="1951.0" y2="1809.40" stroke="#262626" stroke-width="4.0"/>
<line x1="212.0" y1="1646.80" x2="231.0" y2="1646.80" stroke="#262626" stroke-width="4.0"/>
<line x1="1970.0" y1="1646.80" x2="1951.0" y2="1646.80" stroke="#262626" stroke-width="4.0"/>
<line x1="212.0" y1="1484.20" x2="231.0" y2="1484.20" stroke="#262626" stroke-width="4.0"/>
<line x1="1970.0" y1="1484.20" x2="1951.0" y2="1484.20" stroke="#262626" stroke-width="4.0"/>
<line x1="212.0" y1="1321.60" x2="231.0" y2="1321.60" stroke="#262626" stroke-width="4.0"/>
<line x1="1970.0" y1="1321.60" x2="1951.0" y2="1321.60" stroke="#262626" stroke-width="4.0"/>
<rect x="212.0" y="1159.0" width="1758.0" height="813.0" fill="none" stroke="#262626" stroke-width="4.0"/>
<g clip-path="url(#cb)">
<path d="M213.30,1644.29 L224.49,1647.21 L235.67,1650.24 L246.86,1652.82 L258.05,1654.62 L269.23,1655.48 L280.42,1655.22 L291.61,1653.95 L302.79,1651.79 L313.98,1648.79 L325.17,1645.24 L336.35,1641.60 L347.54,1637.99 L358.73,1634.76 L369.91,1632.42 L381.10,1631.04 L392.29,1630.79 L403.47,1631.82 L414.66,1634.20 L425.85,1637.64 L437.03,1642.05 L448.22,1647.03 L459.41,1652.13 L470.59,1656.85 L481.78,1660.84 L492.97,1663.67 L504.15,1665.20 L515.34,1664.66 L526.53,1662.31 L537.71,1658.52 L548.90,1653.87 L560.09,1648.46 L571.27,1642.82 L582.46,1637.48 L593.65,1633.22 L604.83,1630.81 L616.02,1630.73 L627.21,1633.11 L638.39,1638.28 L649.58,1646.28 L660.76,1656.64 L671.95,1668.71 L683.14,1681.60 L694.32,1694.23 L705.51,1705.25 L716.70,1713.69 L727.88,1718.38 L739.07,1717.99 L750.26,1711.39 L761.44,1697.86 L772.63,1677.35 L783.82,1649.86 L795.00,1615.73 L806.19,1575.82 L817.38,1531.74 L828.56,1485.06 L839.75,1437.43 L850.94,1391.15 L862.12,1348.87 L873.31,1312.40 L884.50,1283.83 L895.68,1264.55 L906.87,1255.92 L918.06,1258.71 L929.24,1273.68 L940.43,1299.58 L951.62,1335.81 L962.80,1380.97 L973.99,1433.40 L985.18,1490.40 L996.36,1553.54 L1007.55,1618.37 L1018.74,1678.13 L1029.92,1730.73 L1041.11,1775.15 L1052.30,1810.39 L1063.48,1835.73 L1074.67,1851.20 L1085.86,1856.98 L1097.04,1853.25 L1108.23,1840.73 L1119.42,1821.47 L1130.60,1797.71 L1141.79,1771.48 L1152.98,1744.49 L1164.16,1718.42 L1175.35,1694.91 L1186.54,1675.19 L1197.72,1659.81 L1208.91,1649.25 L1220.10,1644.01 L1231.28,1643.99 L1242.47,1647.92 L1253.66,1654.40 L1264.84,1662.04 L1276.03,1669.42 L1287.22,1675.16 L1298.40,1677.85 L1309.59,1676.52 L1320.78,1671.09 L1331.96,1661.58 L1343.15,1648.31 L1354.34,1632.61 L1365.52,1616.05 L1376.71,1600.18 L1387.90,1586.21 L1399.08,1575.14 L1410.27,1567.95 L1421.46,1565.63 L1432.64,1569.34 L1443.83,1579.09 L1455.02,1595.88 L1466.20,1620.34 L1477.39,1652.17 L1488.58,1687.37 L1499.76,1722.86 L1510.95,1758.34 L1522.14,1794.07 L1533.32,1830.21 L1544.51,1862.36 L1555.69,1886.29 L1566.88,1900.52 L1578.07,1907.13 L1589.25,1905.45 L1600.44,1895.51 L1611.63,1877.59 L1622.81,1851.87 L1634.00,1817.73 L1645.19,1780.42 L1656.37,1741.26 L1667.56,1701.42 L1678.75,1661.11 L1689.93,1622.77 L1701.12,1590.07 L1712.31,1565.20 L1723.49,1549.23 L1734.68,1538.82 L1745.87,1534.00 L1757.05,1534.20 L1768.24,1539.85 L1779.43,1549.59 L1790.61,1562.57 L1801.80,1577.86 L1812.99,1594.47 L1824.17,1611.20 L1835.36,1626.60 L1846.55,1640.03 L1857.73,1650.84 L1868.92,1658.86 L1880.11,1663.39 L1891.29,1664.37 L1902.48,1662.32 L1913.67,1658.19 L1924.85,1653.37 L1936.04,1648.27 L1947.23,1643.26 L1958.41,1638.36 L1969.60,1633.61" fill="none" stroke="#0072BD" stroke-width="3.8" stroke-linejoin="round" shape-rendering="crispEdges" />
</g>
<path d="M213.30,1644.68 L224.49,1647.65 L235.67,1650.65 L246.86,1653.13 L258.05,1654.81 L269.23,1655.51 L280.42,1655.09 L291.61,1653.70 L302.79,1651.40 L313.98,1648.31 L325.17,1644.71 L336.35,1641.08 L347.54,1637.49 L358.73,1634.36 L369.91,1632.17 L381.10,1630.93 L392.29,1630.86 L403.47,1632.08 L414.66,1634.63 L425.85,1638.21 L437.03,1642.73 L448.22,1647.76 L459.41,1652.84 L470.59,1657.48 L481.78,1661.33 L492.97,1663.98 L504.15,1665.26 L515.34,1664.42 L526.53,1661.85 L537.71,1657.89 L548.90,1653.14 L560.09,1647.65 L571.27,1642.03 L582.46,1636.79 L593.65,1632.75 L604.83,1630.65 L616.02,1630.92 L627.21,1633.67 L638.39,1639.26 L649.58,1647.63 L660.76,1658.27 L671.95,1670.53 L683.14,1683.45 L694.32,1695.93 L705.51,1706.64 L716.70,1714.62 L727.88,1718.67 L739.07,1717.45 L750.26,1709.89 L761.44,1695.35 L772.63,1673.85 L783.82,1645.37 L795.00,1610.35 L806.19,1569.73 L817.38,1525.19 L828.56,1478.26 L839.75,1430.66 L850.94,1384.80 L862.12,1343.25 L873.31,1307.79 L884.50,1280.47 L895.68,1262.64 L906.87,1255.60 L918.06,1260.10 L929.24,1276.75 L940.43,1304.14 L951.62,1341.76 L962.80,1388.07 L973.99,1441.33 L985.18,1498.80 L996.36,1558.42 L1007.55,1617.52 L1018.74,1673.90 L1029.92,1725.53 L1041.11,1770.00 L1052.30,1805.93 L1063.48,1832.36 L1074.67,1849.06 L1085.86,1855.83 L1097.04,1853.45 L1108.23,1843.09 L1119.42,1826.01 L1130.60,1804.04 L1141.79,1778.85 L1152.98,1752.41 L1164.16,1726.35 L1175.35,1702.46 L1186.54,1681.47 L1197.72,1664.38 L1208.91,1652.00 L1220.10,1644.73 L1231.28,1641.91 L1242.47,1643.02 L1253.66,1646.78 L1264.84,1652.06 L1276.03,1658.10 L1287.22,1664.32 L1298.40,1669.29 L1309.59,1672.13 L1320.78,1672.20 L1331.96,1669.01 L1343.15,1662.45 L1354.34,1653.29 L1365.52,1642.21 L1376.71,1629.86 L1387.90,1617.48 L1399.08,1606.02 L1410.27,1596.44 L1421.46,1589.85 L1432.64,1587.21 L1443.83,1588.60 L1455.02,1595.23 L1466.20,1607.00 L1477.39,1623.30 L1488.58,1642.62 L1499.76,1664.97 L1510.95,1688.94 L1522.14,1713.80 L1533.32,1738.30 L1544.51,1761.04 L1555.69,1780.17 L1566.88,1795.31 L1578.07,1805.93 L1589.25,1811.57 L1600.44,1811.83 L1611.63,1807.05 L1622.81,1797.61 L1634.00,1783.85 L1645.19,1766.82 L1656.37,1747.30 L1667.56,1726.57 L1678.75,1705.46 L1689.93,1685.26 L1701.12,1666.55 L1712.31,1650.16 L1723.49,1636.49 L1734.68,1626.15 L1745.87,1618.80 L1757.05,1614.43 L1768.24,1612.84 L1779.43,1613.78 L1790.61,1616.45 L1801.80,1620.36 L1812.99,1625.18 L1824.17,1630.29 L1835.36,1635.15 L1846.55,1639.31 L1857.73,1642.57 L1868.92,1644.83 L1880.11,1646.18 L1891.29,1646.61 L1902.48,1646.09 L1913.67,1644.90 L1924.85,1643.59 L1936.04,1642.31 L1947.23,1641.22 L1958.41,1640.38 L1969.60,1639.99" fill="none" stroke="#D95319" stroke-width="3.8" stroke-linejoin="round" shape-rendering="crispEdges" />
<g fill="#D95319">
<circle cx="213.30" cy="1644.68" r="6.1"/>
<circle cx="224.49" cy="1647.65" r="6.1"/>
<circle cx="235.67" cy="1650.65" r="6.1"/>
<circle cx="246.86" cy="1653.13" r="6.1"/>
<circle cx="258.05" cy="1654.81" r="6.1"/>
<circle cx="269.23" cy="1655.51" r="6.1"/>
<circle cx="280.42" cy="1655.09" r="6.1"/>
<circle cx="291.61" cy="1653.70" r="6.1"/>
<circle cx="302.79" cy="1651.40" r="6.1"/>
<circle cx="313.98" cy="1648.31" r="6.1"/>
<circle cx="325.17" cy="1644.71" r="6.1"/>
<circle cx="336.35" cy="1641.08" r="6.1"/>
<circle cx="347.54" cy="1637.49" r="6.1"/>
<circle cx="358.73" cy="1634.36" r="6.1"/>
<circle cx="369.91" cy="1632.17" r="6.1"/>
<circle cx="381.10" cy="1630.93" r="6.1"/>
<circle cx="392.29" cy="1630.86" r="6.1"/>
<circle cx="403.47" cy="1632.08" r="6.1"/>
<circle cx="414.66" cy="1634.63" r="6.1"/>
<circle cx="425.85" cy="1638.21" r="6.1"/>
<circle cx="437.03" cy="1642.73" r="6.1"/>
<circle cx="448.22" cy="1647.76" r="6.1"/>
<circle cx="459.41" cy="1652.84" r="6.1"/>
<circle cx="470.59" cy="1657.48" r="6.1"/>
<circle cx="481.78" cy="1661.33" r="6.1"/>
<circle cx="492.97" cy="1663.98" r="6.1"/>
<circle cx="504.15" cy="1665.26" r="6.1"/>
<circle cx="515.34" cy="1664.42" r="6.1"/>
<circle cx="526.53" cy="1661.85" r="6.1"/>
<circle cx="537.71" cy="1657.89" r="6.1"/>
<circle cx="548.90" cy="1653.14" r="6.1"/>
<circle cx="560.09" cy="1647.65" r="6.1"/>
<circle cx="571.27" cy="1642.03" r="6.1"/>
<circle cx="582.46" cy="1636.79" r="6.1"/>
<circle cx="593.65" cy="1632.75" r="6.1"/>
<circle cx="604.83" cy="1630.65" r="6.1"/>
<circle cx="616.02" cy="1630.92" r="6.1"/>
<circle cx="627.21" cy="1633.67" r="6.1"/>
<circle cx="638.39" cy="1639.26" r="6.1"/>
<circle cx="649.58" cy="1647.63" r="6.1"/>
<circle cx="660.76" cy="1658.27" r="6.1"/>
<circle cx="671.95" cy="1670.53" r="6.1"/>
<circle cx="683.14" cy="1683.45" r="6.1"/>
<circle cx="694.32" cy="1695.93" r="6.1"/>
<circle cx="705.51" cy="1706.64" r="6.1"/>
<circle cx="716.70" cy="1714.62" r="6.1"/>
<circle cx="727.88" cy="1718.67" r="6.1"/>
<circle cx="739.07" cy="1717.45" r="6.1"/>
<circle cx="750.26" cy="1709.89" r="6.1"/>
<circle cx="761.44" cy="1695.35" r="6.1"/>
<circle cx="772.63" cy="1673.85" r="6.1"/>
<circle cx="783.82" cy="1645.37" r="6.1"/>
<circle cx="795.00" cy="1610.35" r="6.1"/>
<circle cx="806.19" cy="1569.73" r="6.1"/>
<circle cx="817.38" cy="1525.19" r="6.1"/>
<circle cx="828.56" cy="1478.26" r="6.1"/>
<circle cx="839.75" cy="1430.66" r="6.1"/>
<circle cx="850.94" cy="1384.80" r="6.1"/>
<circle cx="862.12" cy="1343.25" r="6.1"/>
<circle cx="873.31" cy="1307.79" r="6.1"/>
<circle cx="884.50" cy="1280.47" r="6.1"/>
<circle cx="895.68" cy="1262.64" r="6.1"/>
<circle cx="906.87" cy="1255.60" r="6.1"/>
<circle cx="918.06" cy="1260.10" r="6.1"/>
<circle cx="929.24" cy="1276.75" r="6.1"/>
<circle cx="940.43" cy="1304.14" r="6.1"/>
<circle cx="951.62" cy="1341.76" r="6.1"/>
<circle cx="962.80" cy="1388.07" r="6.1"/>
<circle cx="973.99" cy="1441.33" r="6.1"/>
<circle cx="985.18" cy="1498.80" r="6.1"/>
<circle cx="996.36" cy="1558.42" r="6.1"/>
<circle cx="1007.55" cy="1617.52" r="6.1"/>
<circle cx="1018.74" cy="1673.90" r="6.1"/>
<circle cx="1029.92" cy="1725.53" r="6.1"/>
<circle cx="1041.11" cy="1770.00" r="6.1"/>
<circle cx="1052.30" cy="1805.93" r="6.1"/>
<circle cx="1063.48" cy="1832.36" r="6.1"/>
<circle cx="1074.67" cy="1849.06" r="6.1"/>
<circle cx="1085.86" cy="1855.83" r="6.1"/>
<circle cx="1097.04" cy="1853.45" r="6.1"/>
<circle cx="1108.23" cy="1843.09" r="6.1"/>
<circle cx="1119.42" cy="1826.01" r="6.1"/>
<circle cx="1130.60" cy="1804.04" r="6.1"/>
<circle cx="1141.79" cy="1778.85" r="6.1"/>
<circle cx="1152.98" cy="1752.41" r="6.1"/>
<circle cx="1164.16" cy="1726.35" r="6.1"/>
<circle cx="1175.35" cy="1702.46" r="6.1"/>
<circle cx="1186.54" cy="1681.47" r="6.1"/>
<circle cx="1197.72" cy="1664.38" r="6.1"/>
<circle cx="1208.91" cy="1652.00" r="6.1"/>
<circle cx="1220.10" cy="1644.73" r="6.1"/>
<circle cx="1231.28" cy="1641.91" r="6.1"/>
<circle cx="1242.47" cy="1643.02" r="6.1"/>
<circle cx="1253.66" cy="1646.78" r="6.1"/>
<circle cx="1264.84" cy="1652.06" r="6.1"/>
<circle cx="1276.03" cy="1658.10" r="6.1"/>
<circle cx="1287.22" cy="1664.32" r="6.1"/>
<circle cx="1298.40" cy="1669.29" r="6.1"/>
<circle cx="1309.59" cy="1672.13" r="6.1"/>
<circle cx="1320.78" cy="1672.20" r="6.1"/>
<circle cx="1331.96" cy="1669.01" r="6.1"/>
<circle cx="1343.15" cy="1662.45" r="6.1"/>
<circle cx="1354.34" cy="1653.29" r="6.1"/>
<circle cx="1365.52" cy="1642.21" r="6.1"/>
<circle cx="1376.71" cy="1629.86" r="6.1"/>
<circle cx="1387.90" cy="1617.48" r="6.1"/>
<circle cx="1399.08" cy="1606.02" r="6.1"/>
<circle cx="1410.27" cy="1596.44" r="6.1"/>
<circle cx="1421.46" cy="1589.85" r="6.1"/>
<circle cx="1432.64" cy="1587.21" r="6.1"/>
<circle cx="1443.83" cy="1588.60" r="6.1"/>
<circle cx="1455.02" cy="1595.23" r="6.1"/>
<circle cx="1466.20" cy="1607.00" r="6.1"/>
<circle cx="1477.39" cy="1623.30" r="6.1"/>
<circle cx="1488.58" cy="1642.62" r="6.1"/>
<circle cx="1499.76" cy="1664.97" r="6.1"/>
<circle cx="1510.95" cy="1688.94" r="6.1"/>
<circle cx="1522.14" cy="1713.80" r="6.1"/>
<circle cx="1533.32" cy="1738.30" r="6.1"/>
<circle cx="1544.51" cy="1761.04" r="6.1"/>
<circle cx="1555.69" cy="1780.17" r="6.1"/>
<circle cx="1566.88" cy="1795.31" r="6.1"/>
<circle cx="1578.07" cy="1805.93" r="6.1"/>
<circle cx="1589.25" cy="1811.57" r="6.1"/>
<circle cx="1600.44" cy="1811.83" r="6.1"/>
<circle cx="1611.63" cy="1807.05" r="6.1"/>
<circle cx="1622.81" cy="1797.61" r="6.1"/>
<circle cx="1634.00" cy="1783.85" r="6.1"/>
<circle cx="1645.19" cy="1766.82" r="6.1"/>
<circle cx="1656.37" cy="1747.30" r="6.1"/>
<circle cx="1667.56" cy="1726.57" r="6.1"/>
<circle cx="1678.75" cy="1705.46" r="6.1"/>
<circle cx="1689.93" cy="1685.26" r="6.1"/>
<circle cx="1701.12" cy="1666.55" r="6.1"/>
<circle cx="1712.31" cy="1650.16" r="6.1"/>
<circle cx="1723.49" cy="1636.49" r="6.1"/>
<circle cx="1734.68" cy="1626.15" r="6.1"/>
<circle cx="1745.87" cy="1618.80" r="6.1"/>
<circle cx="1757.05" cy="1614.43" r="6.1"/>
<circle cx="1768.24" cy="1612.84" r="6.1"/>
<circle cx="1779.43" cy="1613.78" r="6.1"/>
<circle cx="1790.61" cy="1616.45" r="6.1"/>
<circle cx="1801.80" cy="1620.36" r="6.1"/>
<circle cx="1812.99" cy="1625.18" r="6.1"/>
<circle cx="1824.17" cy="1630.29" r="6.1"/>
<circle cx="1835.36" cy="1635.15" r="6.1"/>
<circle cx="1846.55" cy="1639.31" r="6.1"/>
<circle cx="1857.73" cy="1642.57" r="6.1"/>
<circle cx="1868.92" cy="1644.83" r="6.1"/>
<circle cx="1880.11" cy="1646.18" r="6.1"/>
<circle cx="1891.29" cy="1646.61" r="6.1"/>
<circle cx="1902.48" cy="1646.09" r="6.1"/>
<circle cx="1913.67" cy="1644.90" r="6.1"/>
<circle cx="1924.85" cy="1643.59" r="6.1"/>
<circle cx="1936.04" cy="1642.31" r="6.1"/>
<circle cx="1947.23" cy="1641.22" r="6.1"/>
<circle cx="1958.41" cy="1640.38" r="6.1"/>
<circle cx="1969.60" cy="1639.99" r="6.1"/>
</g>
<text transform="translate(210.50,2049.50) scale(1,1.035)" font-size="53.33" text-anchor="middle" fill="#262626">1</text>
<text transform="translate(562.10,2049.50) scale(1,1.035)" font-size="53.33" text-anchor="middle" fill="#262626">1.5</text>
<text transform="translate(913.70,2049.50) scale(1,1.035)" font-size="53.33" text-anchor="middle" fill="#262626">2</text>
<text transform="translate(1265.30,2049.50) scale(1,1.035)" font-size="53.33" text-anchor="middle" fill="#262626">2.5</text>
<text transform="translate(1616.90,2049.50) scale(1,1.035)" font-size="53.33" text-anchor="middle" fill="#262626">3</text>
<text transform="translate(1968.50,2049.50) scale(1,1.035)" font-size="53.33" text-anchor="middle" fill="#262626">3.5</text>
<text transform="translate(189.00,1994.20) scale(1,1.035)" font-size="53.33" text-anchor="end" fill="#262626">-0.2</text>
<text transform="translate(189.00,1831.60) scale(1,1.035)" font-size="53.33" text-anchor="end" fill="#262626">-0.1</text>
<text transform="translate(189.00,1669.00) scale(1,1.035)" font-size="53.33" text-anchor="end" fill="#262626">0</text>
<text transform="translate(189.00,1506.40) scale(1,1.035)" font-size="53.33" text-anchor="end" fill="#262626">0.1</text>
<text transform="translate(189.00,1343.80) scale(1,1.035)" font-size="53.33" text-anchor="end" fill="#262626">0.2</text>
<text transform="translate(189.00,1181.20) scale(1,1.035)" font-size="53.33" text-anchor="end" fill="#262626">0.3</text>
<text transform="translate(1086.00,2131.55)" font-size="58.67" text-anchor="middle" fill="#262626" stroke="#fff" stroke-width="0.3">time (ns)</text>
<text transform="translate(67.00,1568.45) rotate(-90)" font-size="58.67" text-anchor="middle" fill="#262626" stroke="#fff" stroke-width="0.3">Amplitude</text>
<text transform="translate(273.00,1267.50) scale(1,1.02)" font-size="64" text-anchor="start" fill="#000" font-weight="bold">b</text>
<rect x="1025" y="1163" width="961" height="188" fill="#fff" stroke="#262626" stroke-width="4.0"/>
<line x1="1040" y1="1213.5" x2="1162" y2="1213.5" stroke="#0072BD" stroke-width="3.6"/>
<line x1="1040" y1="1300.5" x2="1162" y2="1300.5" stroke="#D95319" stroke-width="3.6"/>
<circle cx="1101" cy="1300.5" r="6" fill="#D95319"/>
<text transform="translate(1173.20,1240.35) scale(1,1.04)" font-size="64.2" text-anchor="start" fill="#000" stroke="#fff" stroke-width="0.7">From region with debonding</text>
<text transform="translate(1173.20,1327.15) scale(1,1.04)" font-size="64.2" text-anchor="start" fill="#000" stroke="#fff" stroke-width="0.7">From healthy region</text>
</svg>
</body></html>
